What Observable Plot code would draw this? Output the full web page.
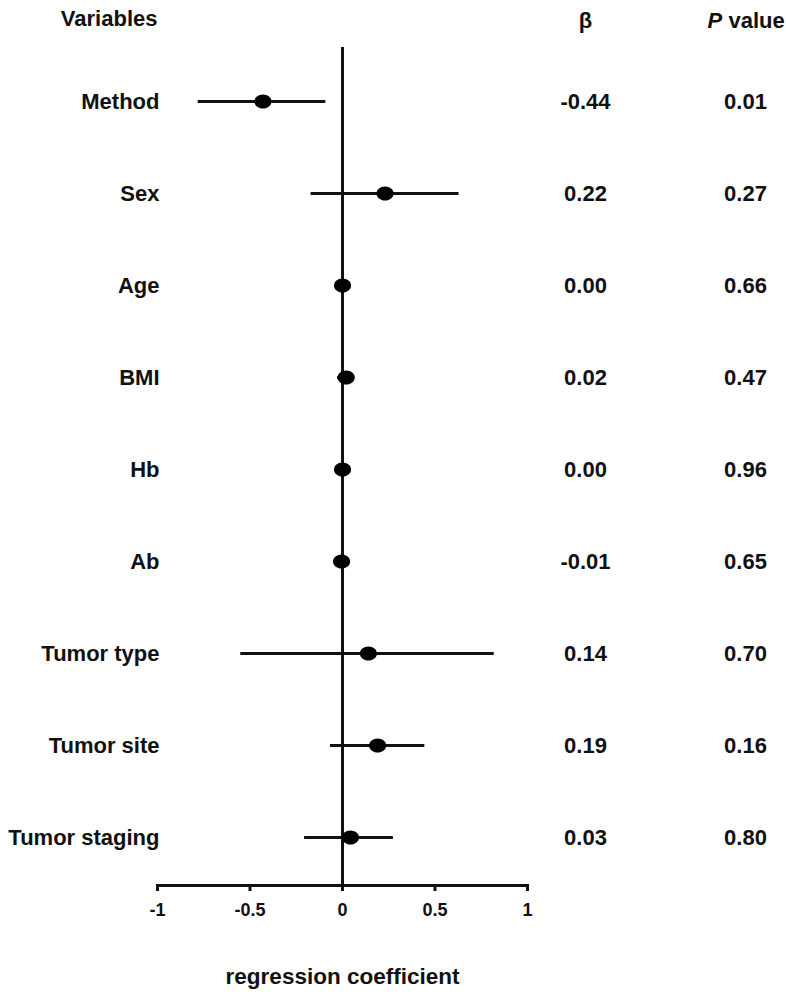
<!DOCTYPE html>
<html>
<head>
<meta charset="utf-8">
<script src="https://cdn.jsdelivr.net/npm/d3@7"></script>
<script src="https://cdn.jsdelivr.net/npm/@observablehq/plot@0.6"></script>
<style>
  html, body { margin: 0; padding: 0; background: #fff; }
</style>
</head>
<body>
<div id="chart"></div>
<script>
const variables = ["Method", "Sex", "Age", "BMI", "Hb", "Ab", "Tumor type", "Tumor site", "Tumor staging"];
const estimate  = [-0.43, 0.23, 0.00, 0.02, 0.00, -0.005, 0.14, 0.19, 0.043];
const lower     = [-0.78, -0.17, -0.01, -0.027, -0.01, -0.015, -0.55, -0.065, -0.205];
const upper     = [-0.09, 0.63, 0.01, 0.05, 0.01, 0.005, 0.82, 0.445, 0.275];
const betaText  = ["-0.44", "0.22", "0.00", "0.02", "0.00", "-0.01", "0.14", "0.19", "0.03"];
const pText     = ["0.01", "0.27", "0.66", "0.47", "0.96", "0.65", "0.70", "0.16", "0.80"];
const xTicks    = [-1, -0.5, 0, 0.5, 1];

const rows = variables.map((name, i) => ({
  name, est: estimate[i], lo: lower[i], hi: upper[i], beta: betaText[i], p: pText[i]
}));

const ellipse = {
  draw(ctx, size) {
    const r = Math.sqrt(size / Math.PI);
    const rx = r * 1.07, ry = r * 0.88, k = 0.5523;
    ctx.moveTo(rx, 0);
    ctx.bezierCurveTo(rx, ry * k, rx * k, ry, 0, ry);
    ctx.bezierCurveTo(-rx * k, ry, -rx, ry * k, -rx, 0);
    ctx.bezierCurveTo(-rx, -ry * k, -rx * k, -ry, 0, -ry);
    ctx.bezierCurveTo(rx * k, -ry, rx, -ry * k, rx, 0);
    ctx.closePath();
  }
};

const font = {fontSize: 22, fontWeight: "bold", fill: "#111"};

const chart = Plot.plot({
  width: 786,
  height: 998,
  marginTop: 47,
  marginBottom: 113,
  marginLeft: 157,
  marginRight: 259,
  style: {fontFamily: "'Liberation Sans', Arial, sans-serif", background: "#fff", color: "#111"},
  x: {domain: [-1, 1]},
  y: {type: "point", domain: variables, range: [101, 837], padding: 0, axis: null},
  marks: [
    Plot.ruleX([0], {stroke: "#111", strokeWidth: 3}),
    Plot.frame({anchor: "bottom", stroke: "#111", strokeWidth: 3}),
    Plot.axisX({
      ticks: xTicks, tickSize: 6, tickPadding: 12, strokeWidth: 3, stroke: "#111",
      tickFormat: d => String(d), fontSize: 18, fontWeight: "bold", fill: "#111", label: null
    }),
    Plot.ruleY(rows, {y: "name", x1: "lo", x2: "hi", stroke: "#111", strokeWidth: 3}),
    Plot.dot(rows, {x: "est", y: "name", r: 8, fill: "#000", stroke: null, symbol: ellipse}),
    Plot.text(rows, {y: "name", text: "name", frameAnchor: "left", textAnchor: "end", dx: 2, ...font}),
    Plot.text(rows, {y: "name", text: "beta", frameAnchor: "right", textAnchor: "middle", dx: 58, ...font}),
    Plot.text(rows, {y: "name", text: "p", frameAnchor: "right", textAnchor: "middle", dx: 218, ...font}),
    Plot.text(["Variables"], {frameAnchor: "top-left", textAnchor: "end", dx: 0, dy: -37, ...font}),
    Plot.text(["β"], {frameAnchor: "top-right", textAnchor: "middle", dx: 58, dy: -35, ...font}),
    Plot.text(["P"], {frameAnchor: "top-right", textAnchor: "start", dx: 180, dy: -35, fontStyle: "italic", ...font}),
    Plot.text(["value"], {frameAnchor: "top-right", textAnchor: "start", dx: 201, dy: -35, ...font}),
    Plot.text(["regression coefficient"], {frameAnchor: "bottom", textAnchor: "middle", dy: 98, ...font, fontSize: 22.5})
  ]
});

document.getElementById("chart").appendChild(chart);
</script>
</body>
</html>
